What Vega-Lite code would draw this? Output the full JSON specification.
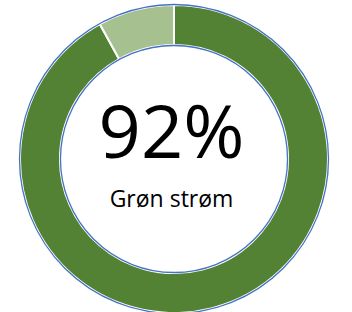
{
  "$schema": "https://vega.github.io/schema/vega-lite/v6.json",
  "width": 352,
  "height": 312,
  "autosize": {"type": "fit", "contains": "padding"},
  "padding": {"left": 0, "right": 4, "top": 6, "bottom": 0},
  "background": "white",
  "view": {"stroke": null},
  "datasets": {
    "segments": [
      {"category": "Grøn strøm", "value": 92, "rank": 1},
      {"category": "Øvrig", "value": 8, "rank": 2}
    ],
    "ring": [{"value": 100}],
    "big": [{"label": "92%"}],
    "small": [{"label": "Grøn strøm"}]
  },
  "layer": [
    {
      "data": {"name": "segments"},
      "mark": {"type": "arc", "outerRadius": 154, "innerRadius": 114, "stroke": "white", "strokeWidth": 2},
      "encoding": {
        "theta": {"field": "value", "type": "quantitative", "stack": true},
        "order": {"field": "rank", "type": "quantitative"},
        "color": {
          "field": "category",
          "type": "nominal",
          "scale": {"domain": ["Grøn strøm", "Øvrig"], "range": ["#548235", "#a6c08f"]},
          "legend": null
        }
      }
    },
    {
      "data": {"name": "ring"},
      "mark": {"type": "arc", "outerRadius": 154.5, "innerRadius": 113.5, "fillOpacity": 0, "stroke": "#4472c4", "strokeWidth": 1.3},
      "encoding": {
        "theta": {"field": "value", "type": "quantitative", "stack": true}
      }
    },
    {
      "data": {"name": "big"},
      "mark": {"type": "text", "font": "Open Sans", "fontSize": 74, "color": "black", "baseline": "alphabetic", "align": "center", "dx": -2.5, "dy": -1},
      "encoding": {"text": {"field": "label", "type": "nominal"}}
    },
    {
      "data": {"name": "small"},
      "mark": {"type": "text", "font": "Open Sans", "fontSize": 23, "color": "black", "baseline": "alphabetic", "align": "center", "dx": -2.5, "dy": 48},
      "encoding": {"text": {"field": "label", "type": "nominal"}}
    }
  ],
  "resolve": {"scale": {"theta": "independent"}}
}
